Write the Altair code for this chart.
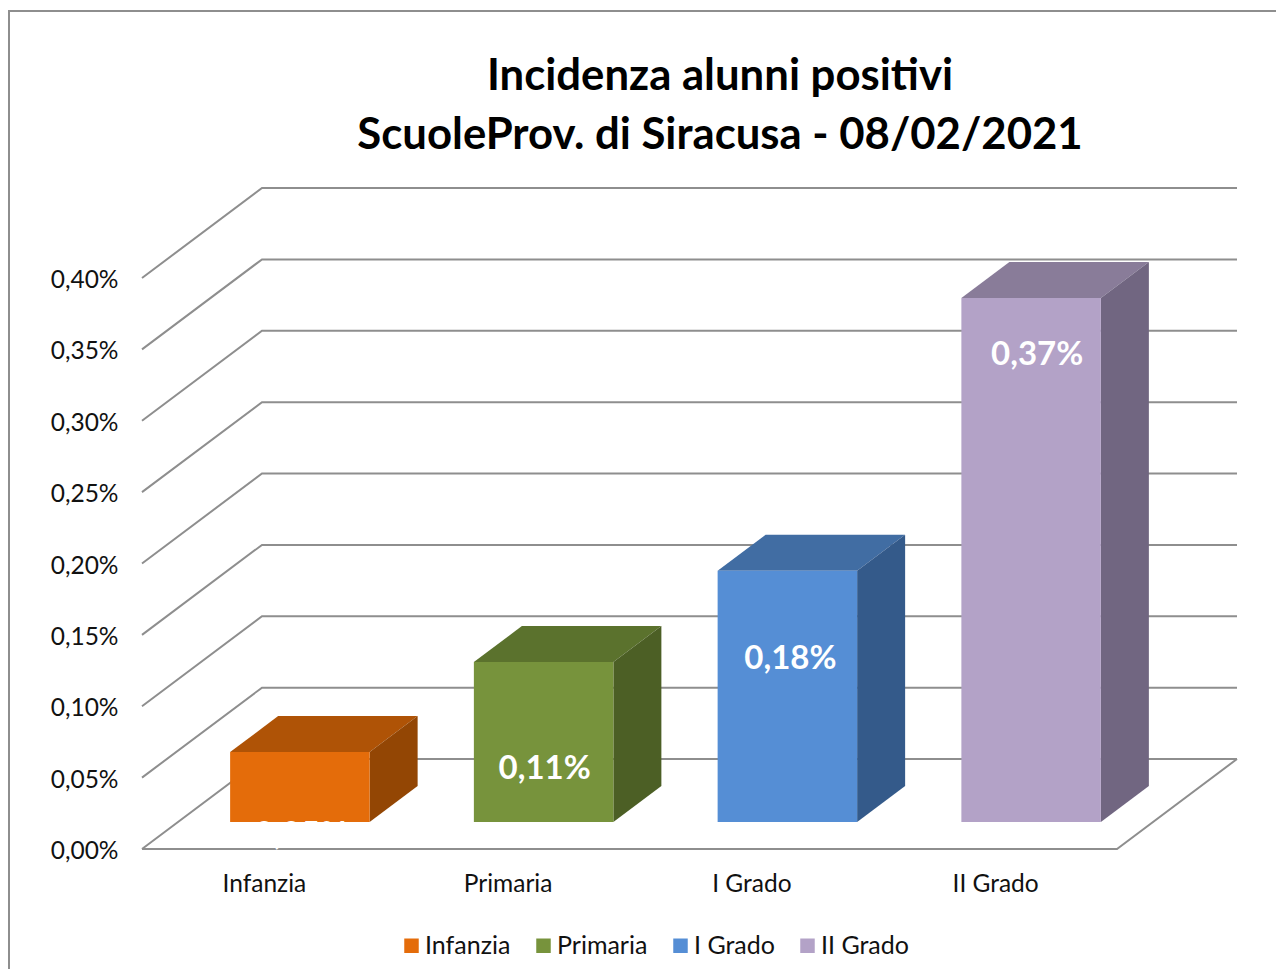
import json
import altair as alt
import pandas as pd

# --- values ---
CATEGORIES = ["Infanzia", "Primaria", "I Grado", "II Grado"]
VALUES = [0.049, 0.112, 0.176, 0.367]
TICKS = [0.0, 0.05, 0.10, 0.15, 0.20, 0.25, 0.30, 0.35, 0.40]
TITLE = ["Incidenza alunni positivi", "ScuoleProv. di Siracusa - 08/02/2021"]

FRONT = ["#E46C0A", "#77933C", "#558ED5", "#B3A2C7"]
TOP = ["#AF5306", "#5B722D", "#416DA3", "#897C99"]
SIDE = ["#934604", "#4C5F25", "#345A8A", "#716681"]
GRID = "#8E8E8E"
FONT = "Lato"

# --- geometry of the pseudo-3D box, in data units ---
PX_PER_UNIT_X = 243.75        # one category slot
PX_PER_UNIT_Y = 1427.5        # one percentage point
DEPTH_X = 120 / PX_PER_UNIT_X
DEPTH_Y = 90 / PX_PER_UNIT_Y
BAR_NEAR, BAR_FAR = 0.3, 0.7  # bar extent along the depth axis
BAR_W = 139.5 / PX_PER_UNIT_X
LABEL_X_SHIFT = [1.0, 1.0, 3.0, 6.0]     # px
LABEL_Y = [0.0097, 0.0558, 0.1330, 0.3458]


def project(u, v, d):
    return u + d * DEPTH_X, v + d * DEPTH_Y


W, H = 1095, 661
x_scale = alt.Scale(domain=[0, W / PX_PER_UNIT_X], nice=False, zero=False)
y_scale = alt.Scale(domain=[0, H / PX_PER_UNIT_Y], nice=False, zero=False)

label_expr_x = json.dumps(CATEGORIES) + "[datum.value - 0.5]"
x_axis = alt.Axis(values=[i + 0.5 for i in range(4)], labelExpr=label_expr_x, title=None,
                  domain=False, ticks=False, grid=False, labelAngle=0, labelFont=FONT,
                  labelFontSize=24.5, labelColor="#111111", labelPadding=23.5, labelOverlap=False,
                  labelFlush=False)
y_axis = alt.Axis(values=TICKS, labelExpr="replace(format(datum.value, '.2f'), '.', ',') + '%'",
                  title=None, domain=False, ticks=False, grid=False, labelFont=FONT,
                  labelFontSize=24.5, labelColor="#111111", labelPadding=24, labelOverlap=False,
                  labelFlush=False, labelOffset=2.5)


def X():
    return alt.X("x:Q", scale=x_scale, axis=x_axis)


def Y():
    return alt.Y("y:Q", scale=y_scale, axis=y_axis)


layers = []

# chart frame (outside the plot area, unclipped)
left_u = (9 - 142) / PX_PER_UNIT_X
right_u = (1284 - 142) / PX_PER_UNIT_X
top_v = (849 - 11) / PX_PER_UNIT_Y
bottom_v = (849 - 977) / PX_PER_UNIT_Y
frame = pd.DataFrame({"x": [left_u, left_u, right_u], "y": [bottom_v, top_v, top_v], "o": [0, 1, 2]})
layers.append(alt.Chart(frame).mark_line(color=GRID, strokeWidth=2).encode(
    x=X(), y=Y(), order="o:O"))

# walls: one polyline per tick
rows = []
for t in TICKS:
    pts = [project(0, t, 0), project(0, t, 1), project(4, t, 1)]
    for o, (px, py) in enumerate(pts):
        rows.append({"x": px, "y": py, "o": o, "g": t})
# floor: front edge and right diagonal
for o, (px, py) in enumerate([project(0, 0, 0), project(4, 0, 0), project(4, 0, 1)]):
    rows.append({"x": px, "y": py, "o": o, "g": -1})
layers.append(alt.Chart(pd.DataFrame(rows)).mark_line(color=GRID, strokeWidth=2).encode(
    x=X(), y=Y(), detail="g:N", order="o:O"))

# bars
fronts = []
for i, (cat, val) in enumerate(zip(CATEGORIES, VALUES)):
    u0 = i + 0.5 - BAR_W / 2
    u1 = i + 0.5 + BAR_W / 2
    # top face
    a0, v0 = project(u0, val, BAR_NEAR)
    a1, _ = project(u1, val, BAR_NEAR)
    b0, v1 = project(u0, val, BAR_FAR)
    b1, _ = project(u1, val, BAR_FAR)
    top = pd.DataFrame({"x": [a0, b0], "x2": [a1, b1], "y": [v0, v1]})
    layers.append(alt.Chart(top).mark_area(color=TOP[i], orient="horizontal").encode(
        x=X(), x2="x2:Q", y=Y()))
    # side face
    c0, base0 = project(u1, 0, BAR_NEAR)
    c1, base1 = project(u1, 0, BAR_FAR)
    _, top0 = project(u1, val, BAR_NEAR)
    _, top1 = project(u1, val, BAR_FAR)
    side = pd.DataFrame({"x": [c0, c1], "y": [base0, base1], "y2": [top0, top1]})
    layers.append(alt.Chart(side).mark_area(color=SIDE[i], orient="vertical").encode(
        x=X(), y=Y(), y2="y2:Q"))
    fronts.append({"x": a0, "x2": a1, "y": base0, "y2": top0, "cat": cat})

layers.append(alt.Chart(pd.DataFrame(fronts)).mark_rect().encode(
    x=X(), x2="x2:Q", y=Y(), y2="y2:Q",
    color=alt.Color("cat:N", scale=alt.Scale(domain=CATEGORIES, range=FRONT),
                    legend=alt.Legend(orient="none", legendX=257, legendY=745, direction="horizontal",
                                      title=None, symbolType="square", symbolSize=210,
                                      symbolStrokeWidth=0, labelFont=FONT, labelFontSize=25,
                                      labelColor="#111111", columnPadding=20, labelOffset=1,
                                      padding=0, columns=4))))

# data labels
labels = pd.DataFrame({
    "x": [project(i + 0.5 + LABEL_X_SHIFT[i] / PX_PER_UNIT_X, 0, BAR_NEAR)[0] for i in range(4)],
    "y": LABEL_Y,
    "t": [f"{v:.2f}".replace(".", ",") + "%" for v in VALUES],
})
layers.append(alt.Chart(labels).mark_text(color="white", fontWeight="bold", font=FONT, fontSize=33,
                                          align="center", baseline="middle").encode(
    x=X(), y=Y(), text="t:N"))

chart = alt.layer(*layers).properties(
    width=W, height=H,
    title=alt.TitleParams(text=TITLE, font=FONT, fontSize=43.7, fontWeight="bold", color="#000000",
                          anchor="middle", lineHeight=59, dx=30.5, dy=151, offset=0),
    autosize=alt.AutoSizeParams(type="none"),
    padding={"left": 134, "top": 180, "right": 39, "bottom": 120},
).configure_view(stroke=None)

chart.save("out.html", embed_options={"renderer": "svg", "actions": False})
